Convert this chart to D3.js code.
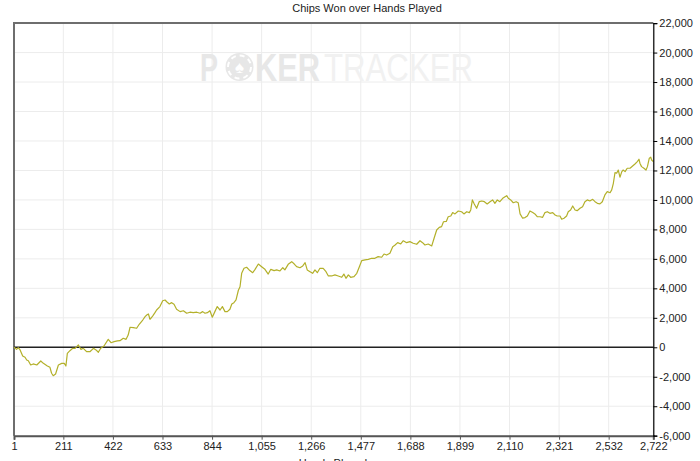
<!DOCTYPE html>
<html>
<head>
<meta charset="utf-8">
<script src="https://cdn.jsdelivr.net/npm/d3@7"></script>
<style>
  html, body { margin: 0; padding: 0; background: #fff; }
  svg { display: block; font-family: "Liberation Sans", Arial, sans-serif; }
</style>
</head>
<body>
<svg id="chart" width="700" height="461"></svg>
<script>
const title = "Chips Won over Hands Played";
const xLabel = "Hands Played";
const xTickValues = [1, 211, 422, 633, 844, 1055, 1266, 1477, 1688, 1899, 2110, 2321, 2532, 2722];
const yTickValues = [-6000, -4000, -2000, 0, 2000, 4000, 6000, 8000, 10000, 12000, 14000, 16000, 18000, 20000, 22000];

const hands = [1, 12, 19, 27, 38, 48, 55, 62, 72, 83, 98, 115, 126, 143, 154, 161, 168, 178, 190, 204,
  215, 222, 228, 239, 251, 261, 275, 286, 296, 310, 324, 339, 350, 360, 370, 384, 402, 414, 427, 441,
  452, 466, 478, 487, 495, 509, 523, 534, 549, 559, 566, 573, 580, 591, 601, 608, 622, 634, 644, 651,
  662, 672, 682, 693, 708, 722, 736, 750, 764, 779, 793, 804, 814, 824, 835, 845, 856, 866, 878, 888,
  899, 909, 920, 928, 937, 946, 956, 963, 970, 980, 991, 1002, 1017, 1027, 1041, 1055, 1069, 1083, 1094, 1108,
  1119, 1133, 1145, 1154, 1168, 1183, 1194, 1204, 1218, 1230, 1240, 1249, 1261, 1272, 1282, 1292, 1303, 1317, 1329, 1339,
  1353, 1367, 1381, 1396, 1405, 1414, 1424, 1434, 1448, 1460, 1471, 1481, 1495, 1509, 1523, 1537, 1551, 1566, 1576, 1587,
  1601, 1613, 1623, 1634, 1647, 1658, 1672, 1686, 1700, 1715, 1729, 1740, 1750, 1764, 1779, 1789, 1800, 1811, 1821, 1829,
  1841, 1849, 1860, 1868, 1878, 1892, 1906, 1916, 1928, 1939, 1945, 1952, 1960, 1970, 1981, 1992, 2003, 2015, 2027, 2038,
  2048, 2058, 2069, 2081, 2091, 2098, 2105, 2115, 2126, 2138, 2147, 2155, 2166, 2176, 2186, 2197, 2209, 2218, 2228, 2240,
  2251, 2261, 2271, 2282, 2294, 2304, 2313, 2325, 2332, 2342, 2353, 2360, 2370, 2379, 2389, 2398, 2410, 2421, 2431, 2441,
  2452, 2464, 2474, 2484, 2495, 2505, 2516, 2526, 2538, 2545, 2552, 2559, 2566, 2573, 2580, 2588, 2594, 2602, 2611, 2623,
  2634, 2644, 2654, 2661, 2665, 2672, 2682, 2691, 2697, 2705, 2711, 2715, 2722];

const chips = [0, -140, -30, -180, -590, -680, -860, -910, -1200, -1130, -1200, -930, -1090, -1270, -1360, -1760, -1930, -1810, -1200, -1090,
  -1090, -1270, -410, -230, -70, -70, 160, -140, -70, -300, -300, -70, -180, -340, -70, 90, 540, 310, 380, 430,
  450, 610, 540, 830, 1360, 1330, 1290, 1560, 1850, 2080, 2190, 2260, 1900, 2120, 2350, 2530, 2760, 3160, 3210, 3090,
  2940, 3030, 2920, 2580, 2420, 2480, 2310, 2380, 2350, 2380, 2310, 2420, 2310, 2350, 2480, 2040, 2420, 2760, 2530, 2760,
  2420, 2420, 2580, 2940, 3030, 3210, 3870, 4110, 5020, 5360, 5430, 5250, 5060, 5290, 5650, 5470, 5290, 4970, 5290, 5200,
  5250, 5180, 5400, 5250, 5630, 5810, 5650, 5470, 5400, 5520, 5740, 5250, 5130, 5020, 5250, 5060, 5360, 5360, 5130, 4840,
  4840, 4910, 4840, 4750, 4970, 4680, 4910, 4750, 4790, 5020, 5470, 5880, 5930, 5970, 6040, 6040, 6150, 6110, 6330, 6260,
  6380, 6830, 6940, 7100, 7010, 7230, 7100, 7170, 7060, 6990, 7230, 7100, 6940, 7010, 6880, 7400, 7960, 8140, 8190, 8520,
  8540, 8860, 8910, 9140, 9050, 9250, 9200, 9050, 9200, 9140, 9320, 10000, 9730, 9430, 9880, 9930, 9880, 9730, 9880, 10000,
  9770, 10000, 9880, 10110, 10220, 10290, 10110, 10000, 9810, 9880, 9810, 9050, 8760, 8800, 8910, 9250, 9140, 9050, 8860, 8860,
  8820, 9140, 9200, 9090, 9140, 8980, 8910, 8910, 8690, 8760, 8910, 9200, 9320, 9590, 9320, 9270, 9430, 9540, 9880, 10000,
  9930, 10040, 9880, 9770, 9730, 9880, 10340, 10560, 10490, 10680, 11130, 11850, 11810, 12030, 11540, 11920, 12030, 11920, 12150, 12150,
  12300, 12440, 12600, 12760, 12490, 12260, 12150, 12030, 12260, 12830, 12900, 12710, 12600];

(function () {
const svg = d3.select("#chart");
const pLeft = 14, pRight = 653.3, pTop = 23.1, pBottom = 435.7;

const x = d3.scaleLinear().domain([1, 2722]).range([pLeft, pRight]);
const y = d3.scaleLinear().domain([-6000, 22000]).range([pBottom, pTop]);
const fmt = d => d3.format(",")(d).replace("\u2212", "-");

// grid
const grid = svg.append("g");
grid.selectAll("line.v").data(xTickValues).join("line").attr("class", "v")
  .attr("x1", d => x(d)).attr("x2", d => x(d)).attr("y1", pTop).attr("y2", pBottom)
  .attr("stroke", "#ececec").attr("stroke-width", 1);
grid.selectAll("line.h").data(yTickValues).join("line").attr("class", "h")
  .attr("x1", pLeft).attr("x2", pRight).attr("y1", d => y(d)).attr("y2", d => y(d))
  .attr("stroke", "#ececec").attr("stroke-width", 1);

// watermark
const wm = svg.append("g");
wm.append("text").attr("x", 200).attr("y", 80.5).attr("font-size", 38).attr("font-weight", "bold")
  .attr("fill", "#e7e7e7").attr("textLength", 18).attr("lengthAdjust", "spacingAndGlyphs").text("P");
wm.append("circle").attr("cx", 239.5).attr("cy", 67).attr("r", 14).attr("fill", "#e7e7e7");
wm.append("circle").attr("cx", 239.5).attr("cy", 67).attr("r", 11.5).attr("fill", "none")
  .attr("stroke", "#fff").attr("stroke-width", 2).attr("stroke-dasharray", "5 4");
wm.append("text").attr("x", 239.5).attr("y", 73).attr("text-anchor", "middle").attr("font-size", 17)
  .attr("fill", "#fff").text("\u2660");
wm.append("text").attr("x", 255).attr("y", 80.5).attr("font-size", 38).attr("font-weight", "bold")
  .attr("fill", "#e7e7e7").attr("textLength", 65).attr("lengthAdjust", "spacingAndGlyphs").text("KER");
wm.append("text").attr("x", 324).attr("y", 80.5).attr("font-size", 38)
  .attr("fill", "#f1f1f1").attr("textLength", 149).attr("lengthAdjust", "spacingAndGlyphs").text("TRACKER");

// borders
svg.append("line").attr("x1", pLeft).attr("x2", pRight).attr("y1", pTop).attr("y2", pTop)
  .attr("stroke", "#6e6e6e").attr("stroke-width", 2);
svg.append("line").attr("x1", pLeft).attr("x2", pLeft).attr("y1", pTop - 1).attr("y2", pBottom)
  .attr("stroke", "#6e6e6e").attr("stroke-width", 2);

// zero line
svg.append("line").attr("x1", pLeft).attr("x2", pRight).attr("y1", y(0)).attr("y2", y(0))
  .attr("stroke", "#222").attr("stroke-width", 1.5);

// data line
const pts = hands.map((h, i) => [h, chips[i]]);
svg.append("path").datum(pts)
  .attr("fill", "none").attr("stroke", "#b3b02a").attr("stroke-width", 1.2)
  .attr("stroke-linejoin", "round")
  .attr("d", d3.line().x(d => x(d[0])).y(d => y(d[1])));

// bottom axis
const xAxis = svg.append("g").attr("transform", `translate(0,${pBottom})`)
  .call(d3.axisBottom(x).tickValues(xTickValues).tickSize(4).tickPadding(3).tickFormat(fmt));
xAxis.select(".domain").attr("stroke", "#555").attr("stroke-width", 2);
xAxis.selectAll(".tick line").attr("stroke", "#555");
xAxis.selectAll("text").attr("font-size", 11).attr("fill", "#222").attr("font-family", "'Liberation Sans', Arial, sans-serif");

// right axis
const yAxis = svg.append("g").attr("transform", `translate(${pRight},0)`)
  .call(d3.axisRight(y).tickValues(yTickValues).tickSize(4).tickPadding(2).tickFormat(fmt));
yAxis.select(".domain").attr("stroke", "#000").attr("stroke-width", 1.2);
yAxis.selectAll(".tick line").attr("stroke", "#000");
yAxis.selectAll("text").attr("font-size", 11).attr("fill", "#222").attr("font-family", "'Liberation Sans', Arial, sans-serif");

// title and axis label
svg.append("text").attr("x", 367).attr("y", 12).attr("text-anchor", "middle")
  .attr("font-size", 11).attr("fill", "#222").text(title);
svg.append("text").attr("x", 333).attr("y", 467).attr("text-anchor", "middle")
  .attr("font-size", 11).attr("fill", "#222").text(xLabel);
})();
</script>
</body>
</html>
